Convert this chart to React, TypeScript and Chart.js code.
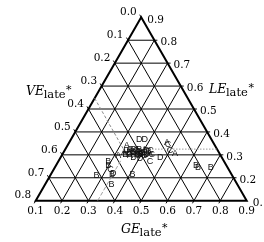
import { useEffect, useRef } from 'react';
import { Chart, registerables } from 'chart.js';
Chart.register(...registerables);

// Ternary axes: GE (bottom), VE (left), LE (right); GE + VE + LE = 1
const GE_TICKS = [0.1, 0.2, 0.3, 0.4, 0.5, 0.6, 0.7, 0.8, 0.9];
const VE_TICKS = [0.0, 0.1, 0.2, 0.3, 0.4, 0.5, 0.6, 0.7, 0.8];
const LE_TICKS = [0.9, 0.8, 0.7, 0.6, 0.5, 0.4, 0.3, 0.2, 0.1];

// Points as [GE, LE] (VE = 1 - GE - LE)
const SERIES_A: [number, number][] = [
  [0.325, 0.34], [0.315, 0.296], [0.472, 0.352], [0.526, 0.304],
  [0.33, 0.31], [0.35, 0.32], [0.37, 0.305], [0.39, 0.315], [0.41, 0.3], [0.36, 0.295], [0.4, 0.325], [0.43, 0.305],
];
const SERIES_B: [number, number][] = [
  [0.291, 0.269], [0.2985, 0.2535], [0.3333, 0.2121], [0.276, 0.209], [0.352, 0.171], [0.41, 0.214],
  [0.6315, 0.2527], [0.643, 0.2448], [0.6915, 0.2439],
  [0.34, 0.3], [0.36, 0.315], [0.38, 0.325], [0.395, 0.3], [0.42, 0.315], [0.35, 0.31], [0.375, 0.29], [0.415, 0.295],
];
const SERIES_C: [number, number][] = [
  [0.478, 0.347], [0.501, 0.317], [0.447, 0.273], [0.317, 0.234],
  [0.345, 0.325], [0.365, 0.31], [0.385, 0.31], [0.405, 0.31], [0.425, 0.32], [0.37, 0.32], [0.39, 0.295], [0.44, 0.3],
];
const SERIES_D: [number, number][] = [
  [0.359, 0.368], [0.379, 0.368], [0.4045, 0.282], [0.478, 0.289], [0.334, 0.2195],
  [0.335, 0.32], [0.355, 0.3], [0.38, 0.315], [0.4, 0.305], [0.42, 0.3], [0.36, 0.325], [0.385, 0.3], [0.41, 0.32],
];

// Reference lines as [GE, LE]
const LINE_VE: [number, number][] = [[0.1, 0.547], [0.35, 0.295]];
const LINE_GE: [number, number][] = [[0.335, 0.1], [0.335, 0.28]];
const LINE_LE: [number, number][] = [[0.383, 0.325], [0.675, 0.325]];

const toXY = (p: [number, number]) => ({ x: p[0] + p[1] / 2, y: p[1] });

const fmt = (v: number) => v.toFixed(1);
const TICK_FONT = '10.5px "DejaVu Serif"';

const ternaryPlugin = {
  id: 'ternary',
  beforeDatasetsDraw(chart: any) {
    const { ctx, scales } = chart;
    const xs = scales.x, ys = scales.y;
    const P = (ge: number, le: number): [number, number] => [xs.getPixelForValue(ge + le / 2), ys.getPixelForValue(le)];
    const line = (a: [number, number], b: [number, number]) => {
      ctx.beginPath(); ctx.moveTo(a[0], a[1]); ctx.lineTo(b[0], b[1]); ctx.stroke();
    };
    const ext = (from: [number, number], to: [number, number], len: number): [number, number] => {
      const dx = to[0] - from[0], dy = to[1] - from[1];
      const d = Math.hypot(dx, dy) || 1;
      return [to[0] + dx / d * len, to[1] + dy / d * len];
    };
    ctx.save();
    ctx.strokeStyle = '#000';
    ctx.lineWidth = 1;
    // constant LE (horizontal)
    LE_TICKS.forEach((l) => {
      if (l >= 0.9 || l <= 0.1) return;
      line(P(0.1, l), P(1 - l, l));
    });
    // constant GE (parallel to left edge)
    GE_TICKS.forEach((g) => {
      if (g <= 0.1 || g >= 0.9) return;
      line(P(g, 0.1), P(g, 1 - g));
    });
    // constant VE (parallel to right edge)
    VE_TICKS.forEach((v) => {
      if (v <= 0 || v >= 0.8) return;
      line(P(0.1, 0.9 - v), P(0.9 - v, 0.1));
    });
    // ticks
    VE_TICKS.forEach((v) => {
      const a = P(0.1, 0.9 - v); const b = P(0.9 - v, 0.1);
      if (v < 0.8) line(a, ext(b, a, 3));
    });
    LE_TICKS.forEach((l) => {
      const a = P(1 - l, l); const b = P(0.1, l);
      if (l > 0.1) line(a, ext(b, a, 3));
    });
    GE_TICKS.forEach((g) => {
      const a = P(g, 0.1); const b = P(g, 1 - g);
      if (g < 0.9) line(a, ext(b, a, 3));
    });
    // triangle border
    ctx.lineWidth = 2;
    ctx.strokeStyle = '#000';
    const T = P(0.1, 0.9), L = P(0.1, 0.1), R = P(0.9, 0.1);
    ctx.beginPath(); ctx.moveTo(T[0], T[1]); ctx.lineTo(L[0], L[1]); ctx.lineTo(R[0], R[1]); ctx.closePath(); ctx.stroke();

    // tick labels
    ctx.fillStyle = '#000';
    ctx.font = TICK_FONT;
    ctx.textBaseline = 'middle';
    ctx.textAlign = 'right';
    VE_TICKS.forEach((v) => {
      const p = P(0.1, 0.9 - v);
      ctx.fillText(fmt(v), p[0] - 4.5, p[1] - 5);
    });
    ctx.textAlign = 'left';
    LE_TICKS.forEach((l) => {
      const p = P(1 - l, l);
      ctx.fillText(fmt(l), p[0] + 6, p[1] + 2.5);
    });
    ctx.textAlign = 'center';
    GE_TICKS.forEach((g) => {
      const p = P(g, 0.1);
      ctx.fillText(fmt(g), p[0], p[1] + 10.5);
    });

    // axis titles
    const title = (main: string, x: number, base: number) => {
      ctx.textAlign = 'left';
      ctx.textBaseline = 'alphabetic';
      ctx.font = 'italic 12.5px "DejaVu Serif"';
      ctx.fillText(main, x, base);
      let cx = x + ctx.measureText(main).width - 0.5;
      ctx.font = '11.5px "DejaVu Serif"';
      ctx.fillText('late', cx, base + 3);
      cx += ctx.measureText('late').width + 0.5;
      ctx.font = '11px "DejaVu Serif"';
      ctx.fillText('*', cx, base - 2);
    };
    title('VE', 26, 95);
    title('LE', 209, 93);
    title('GE', 121, 233);
    ctx.restore();
  },
  afterDatasetsDraw(chart: any) {
    const { ctx } = chart;
    ctx.save();
    ctx.font = '9px "Liberation Sans"';
    ctx.textAlign = 'center';
    ctx.textBaseline = 'middle';
    ctx.fillStyle = '#111';
    chart.data.datasets.forEach((ds: any, i: number) => {
      if (!ds.letter) return;
      const meta = chart.getDatasetMeta(i);
      meta.data.forEach((el: any) => {
        ctx.fillText(ds.letter, el.x, el.y);
      });
    });
    ctx.restore();
  },
};

export default function App() {
  const ref = useRef<HTMLCanvasElement>(null);
  useEffect(() => {
    document.body.style.margin = '0';
    if (!ref.current) return;
    const letterSet = (letter: string, pts: [number, number][]) => ({
      type: 'scatter' as const,
      letter,
      data: pts.map(toXY),
      pointRadius: 0,
      pointHoverRadius: 0,
    });
    const refLine = (pts: [number, number][], color: string, dash: number[]) => ({
      type: 'line' as const,
      data: pts.map(toXY),
      showLine: true,
      borderColor: color,
      borderWidth: 1,
      borderDash: dash,
      pointRadius: 0,
      fill: false,
    });
    const chart = new Chart(ref.current, {
      type: 'scatter',
      data: {
        datasets: [
          refLine(LINE_VE, '#8a8a8a', [3, 2]),
          refLine(LINE_GE, '#a0a0a0', [4, 2]),
          refLine(LINE_LE, '#9a9a9a', [1.5, 1.5]),
          letterSet('A', SERIES_A),
          letterSet('B', SERIES_B),
          letterSet('C', SERIES_C),
          letterSet('D', SERIES_D),
        ] as any,
      },
      options: {
        animation: false,
        responsive: false,
        events: [],
        layout: { padding: { left: 35.7, right: 17.3, top: 17.3, bottom: 41.3 } },
        scales: {
          x: { type: 'linear', min: 0.15, max: 0.95, display: false },
          y: { type: 'linear', min: 0.1, max: 0.9, display: false },
        },
        plugins: { legend: { display: false }, tooltip: { enabled: false } },
      },
      plugins: [ternaryPlugin],
    });
    return () => chart.destroy();
  }, []);
  return (
    <div style={{ width: 264, height: 242, background: '#fff' }}>
      <canvas ref={ref} width={264} height={242} style={{ display: 'block', width: 264, height: 242 }} />
    </div>
  );
}
